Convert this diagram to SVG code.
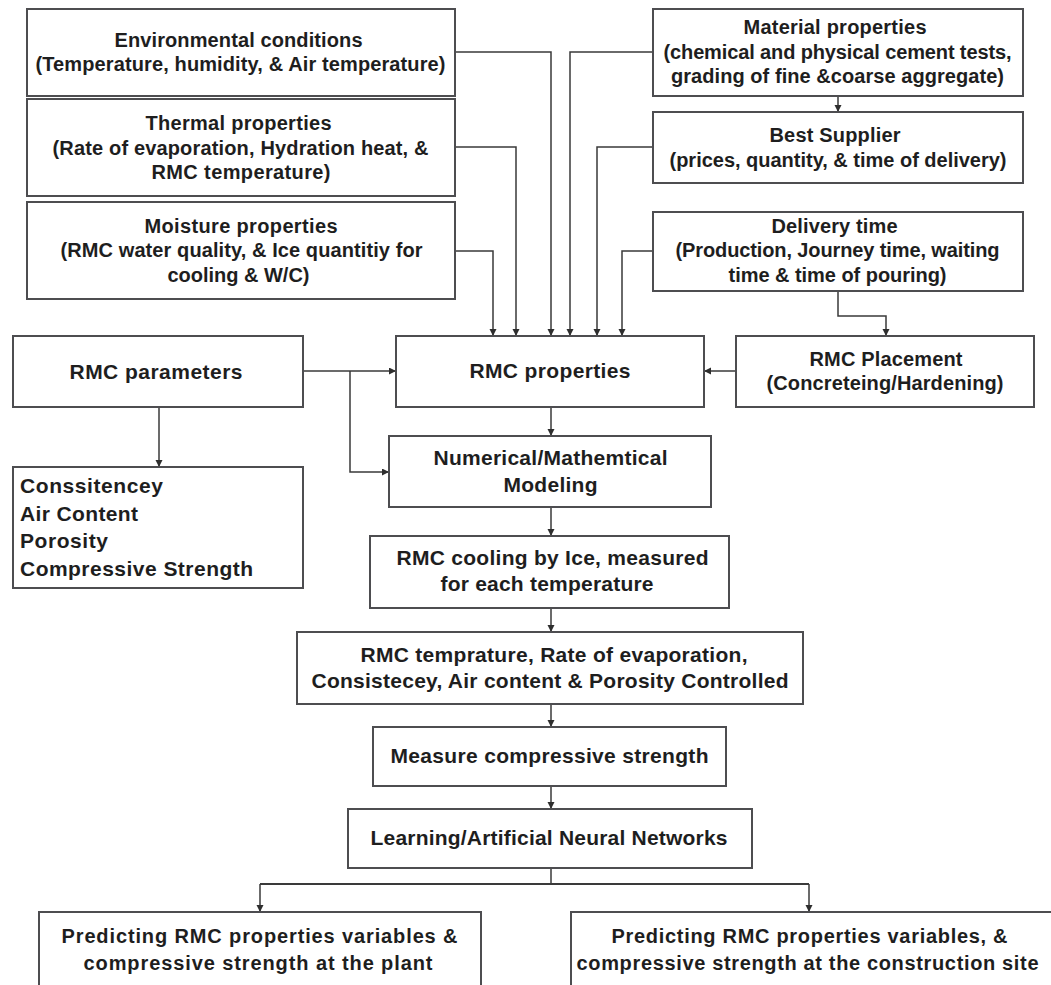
<svg xmlns="http://www.w3.org/2000/svg" width="1051" height="985" viewBox="0 0 1051 985">
  <defs>
    <marker id="arrow" markerUnits="userSpaceOnUse" markerWidth="8" markerHeight="8" refX="7" refY="3.5" orient="auto">
      <path d="M0,0 L7,3.5 L0,7 z" fill="#2e2e2e"/>
    </marker>
    <style>
      .box { fill: #ffffff; stroke: #4d4d50; stroke-width: 2; }
      .t { font-family: "Liberation Sans", Arial, Helvetica, sans-serif; font-weight: bold; fill: #1e1e1e; text-anchor: middle; }
      .s20 { font-size: 20px; }
      .s21 { font-size: 21px; }
      .left { text-anchor: start; }
      .wire { fill: none; stroke: #3a3a3a; stroke-width: 1.5; }
      .arr { marker-end: url(#arrow); }
    </style>
  </defs>
  <rect width="1051" height="985" fill="#ffffff"/>

  <!-- connectors -->
  <g id="connectors">
    <path class="wire arr" d="M455,52 H551 V336"/>
    <path class="wire arr" d="M455,147 H516 V336"/>
    <path class="wire arr" d="M455,251 H493 V336"/>
    <path class="wire arr" d="M653,52 H570 V336"/>
    <path class="wire arr" d="M653,147 H597 V336"/>
    <path class="wire arr" d="M653,251 H622 V336"/>
    <path class="wire arr" d="M838,96 V112"/>
    <path class="wire arr" d="M838,291 V316 H886 V336"/>
    <path class="wire arr" d="M303,371 H396"/>
    <path class="wire arr" d="M350,371 V472 H389"/>
    <path class="wire arr" d="M159,407 V467"/>
    <path class="wire arr" d="M736,371 H704"/>
    <path class="wire arr" d="M551,407 V436"/>
    <path class="wire arr" d="M551,507 V536"/>
    <path class="wire arr" d="M551,608 V632"/>
    <path class="wire arr" d="M551,704 V727"/>
    <path class="wire arr" d="M551,786 V809"/>
    <path class="wire" d="M551,868 V884"/>
    <path class="wire" style="stroke-width:2" d="M260,884 H809"/>
    <path class="wire arr" d="M260,884 V912"/>
    <path class="wire arr" d="M809,884 V912"/>
  </g>

  <!-- input boxes, left column -->
  <g id="environmental">
    <rect class="box" x="27" y="9" width="428" height="87"/>
    <text class="t s20" x="238.5" y="47" textLength="248">Environmental conditions</text>
    <text class="t s20" x="240.5" y="71" textLength="410">(Temperature, humidity, &amp; Air temperature)</text>
  </g>
  <g id="thermal">
    <rect class="box" x="27" y="99" width="428" height="97"/>
    <text class="t s20" x="238.5" y="130" textLength="186">Thermal properties</text>
    <text class="t s20" x="240.5" y="155" textLength="376">(Rate of evaporation, Hydration heat, &amp;</text>
    <text class="t s20" x="241" y="179" textLength="179">RMC temperature)</text>
  </g>
  <g id="moisture">
    <rect class="box" x="27" y="202" width="428" height="97"/>
    <text class="t s20" x="241" y="233" textLength="193">Moisture properties</text>
    <text class="t s20" x="241.5" y="257" textLength="362">(RMC water quality, &amp; Ice quantitiy for</text>
    <text class="t s20" x="238.5" y="282" textLength="142">cooling &amp; W/C)</text>
  </g>

  <!-- input boxes, right column -->
  <g id="material">
    <rect class="box" x="653" y="9" width="370" height="87"/>
    <text class="t s20" x="835" y="34" textLength="183">Material properties</text>
    <text class="t s20" x="837.5" y="59" textLength="348">(chemical and physical cement tests,</text>
    <text class="t s20" x="837.5" y="83" textLength="333">grading of fine &amp;coarse aggregate)</text>
  </g>
  <g id="supplier">
    <rect class="box" x="653" y="112" width="370" height="71"/>
    <text class="t s20" x="835" y="142" textLength="131">Best Supplier</text>
    <text class="t s20" x="838" y="167" textLength="337">(prices, quantity, &amp; time of delivery)</text>
  </g>
  <g id="delivery">
    <rect class="box" x="653" y="212" width="370" height="79"/>
    <text class="t s20" x="834.5" y="233" textLength="126">Delivery time</text>
    <text class="t s20" x="837.5" y="257" textLength="324">(Production, Journey time, waiting</text>
    <text class="t s20" x="837.5" y="282" textLength="218">time &amp; time of pouring)</text>
  </g>

  <!-- central row -->
  <g id="rmc-parameters">
    <rect class="box" x="13" y="336" width="290" height="71"/>
    <text class="t s21" x="156" y="379" textLength="173">RMC parameters</text>
  </g>
  <g id="parameter-list">
    <rect class="box" x="13" y="467" width="290" height="121"/>
    <text class="t s21 left" x="20" y="493" textLength="143">Conssitencey</text>
    <text class="t s21 left" x="20" y="521" textLength="118">Air Content</text>
    <text class="t s21 left" x="20" y="548" textLength="88">Porosity</text>
    <text class="t s21 left" x="20" y="576" textLength="233">Compressive Strength</text>
  </g>
  <g id="rmc-properties">
    <rect class="box" x="396" y="336" width="308" height="71"/>
    <text class="t s21" x="550" y="378" textLength="161">RMC properties</text>
  </g>
  <g id="rmc-placement">
    <rect class="box" x="736" y="336" width="298" height="71"/>
    <text class="t s20" x="886" y="366" textLength="153">RMC Placement</text>
    <text class="t s20" x="885" y="390" textLength="237">(Concreteing/Hardening)</text>
  </g>

  <!-- main process chain -->
  <g id="modeling">
    <rect class="box" x="389" y="436" width="322" height="71"/>
    <text class="t s21" x="550.5" y="465" textLength="234">Numerical/Mathemtical</text>
    <text class="t s21" x="550.5" y="492" textLength="94">Modeling</text>
  </g>
  <g id="cooling">
    <rect class="box" x="370" y="536" width="359" height="72"/>
    <text class="t s21" x="552.5" y="565" textLength="312">RMC cooling by Ice, measured</text>
    <text class="t s21" x="547" y="591" textLength="213">for each temperature</text>
  </g>
  <g id="controlled">
    <rect class="box" x="297" y="632" width="506" height="72"/>
    <text class="t s21" x="554" y="662" textLength="387">RMC temprature, Rate of evaporation,</text>
    <text class="t s21" x="550" y="688" textLength="477">Consistecey, Air content &amp; Porosity Controlled</text>
  </g>
  <g id="measure">
    <rect class="box" x="373" y="727" width="353" height="59"/>
    <text class="t s21" x="549.5" y="763" textLength="318">Measure compressive strength</text>
  </g>
  <g id="ann">
    <rect class="box" x="348" y="809" width="404" height="59"/>
    <text class="t s21" x="549" y="845" textLength="357">Learning/Artificial Neural Networks</text>
  </g>

  <!-- outputs -->
  <g id="predict-plant">
    <rect class="box" x="39" y="912" width="442" height="100"/>
    <text class="t s20" x="259.5" y="943" textLength="396">Predicting RMC properties variables &amp;</text>
    <text class="t s20" x="258" y="970" textLength="349">compressive strength at the plant</text>
  </g>
  <g id="predict-site">
    <rect class="box" x="571" y="912" width="490" height="100"/>
    <text class="t s20" x="809.5" y="943" textLength="396">Predicting RMC properties variables, &amp;</text>
    <text class="t s20" x="807.5" y="970" textLength="462">compressive strength at the construction site</text>
  </g>
</svg>
